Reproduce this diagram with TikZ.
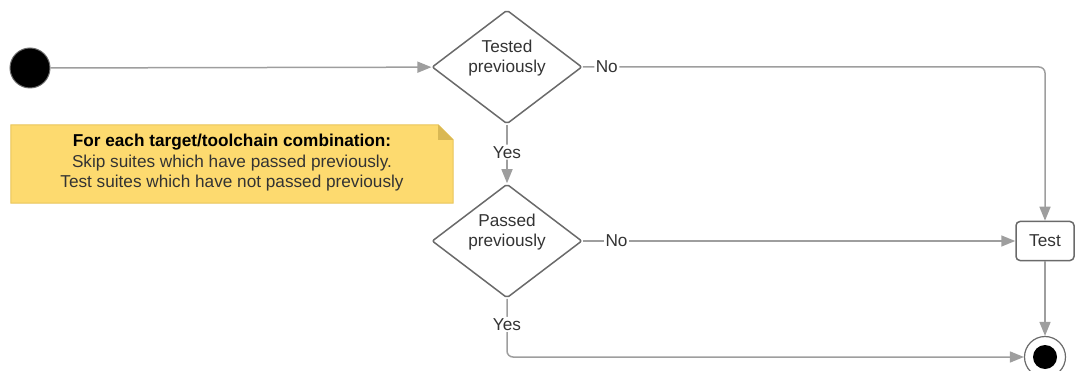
\documentclass[tikz,border=0pt]{standalone}
\usepackage{fontspec}
\setmainfont{Liberation Sans}
\usetikzlibrary{shapes.geometric,arrows.meta,calc}
\definecolor{linegray}{HTML}{9E9E9E}
\definecolor{shapegray}{HTML}{6A6A6A}
\definecolor{txt}{HTML}{333333}
\definecolor{notefill}{HTML}{FDDA6F}
\definecolor{noteline}{HTML}{E8C55A}
\definecolor{notefold}{HTML}{D9B854}
\begin{document}
\begin{tikzpicture}[x=1pt,y=-1pt,
  txtfont/.style={font=\fontsize{17.2}{20.5}\selectfont, text=txt},
  decision/.style={diamond, draw=shapegray, line width=1.5pt, fill=white,
    aspect=1.316, minimum width=150pt, minimum height=114pt, inner sep=0pt,
    rounded corners=2pt},
  dtext/.style={align=center, inner sep=0pt, txtfont},
  actbox/.style={rectangle, draw=shapegray, line width=1.5pt, fill=white,
    rounded corners=4pt, minimum width=58pt, minimum height=39pt, inner sep=0pt, txtfont},
  conn/.style={draw=linegray, line width=1.5pt, rounded corners=6pt,
    -{Triangle[length=14pt,width=11pt]}},
  lbl/.style={fill=white, inner sep=1.5pt, txtfont},
]
\useasboundingbox (0,0) rectangle (1075,371);

% note
\node[minimum width=442pt, minimum height=78pt, inner sep=0pt] (note) at (232,164) {};
\fill[notefill, draw=noteline, line width=1pt]
  (note.north west) -- ($(note.north east)+(-15,0)$) -- ($(note.north east)+(0,15)$)
  -- (note.south east) -- (note.south west) -- cycle;
\fill[notefold] ($(note.north east)+(-15,0)$) -- ($(note.north east)+(-15,15)$) -- ($(note.north east)+(0,15)$) -- cycle;
\node[align=center, txtfont, text=black, inner sep=0pt] (notetext) at (232,163)
  {\textbf{For each target/toolchain combination:}\\
   \color{txt}Skip suites which have passed previously.\\
   \color{txt}Test suites which have not passed previously};

% nodes
\node[circle, fill=black, draw=shapegray, line width=1pt, minimum size=40pt, inner sep=0pt] (start) at (30,68) {};
\node[decision] (d1) at (507,67) {};
\node[dtext] (d1t) at ($(d1.center)+(0,-9)$) {Tested\\previously};
\node[decision] (d2) at (507,241) {};
\node[dtext] (d2t) at ($(d2.center)+(0,-9)$) {Passed\\previously};
\node[actbox] (test) at (1045,241) {Test};
\node[circle, draw=shapegray, line width=1.2pt, fill=white, minimum size=41pt, inner sep=0pt] (end) at (1045,357) {};
\node[circle, fill=black, minimum size=24pt, inner sep=0pt] (endin) at (end.center) {};

% connectors
\draw[conn] (start) -- (d1);
\draw[conn] (d1) -- node[lbl, pos=0.47] {Yes} (d2);
\coordinate (c1) at (d1.east -| test.north);
\draw[conn] (d1.east) -- node[lbl, pos=0.052] {No} (c1) -- (test.north);
\draw[conn] (d2.east) -- node[lbl, pos=0.078] {No} (test.west);
\coordinate (c2) at (d2.south |- end.west);
\draw[conn] (d2.south) -- node[lbl, pos=0.44] {Yes} (c2) -- (end.west);
\draw[conn] (test.south) -- (end.north);
\end{tikzpicture}
\end{document}
